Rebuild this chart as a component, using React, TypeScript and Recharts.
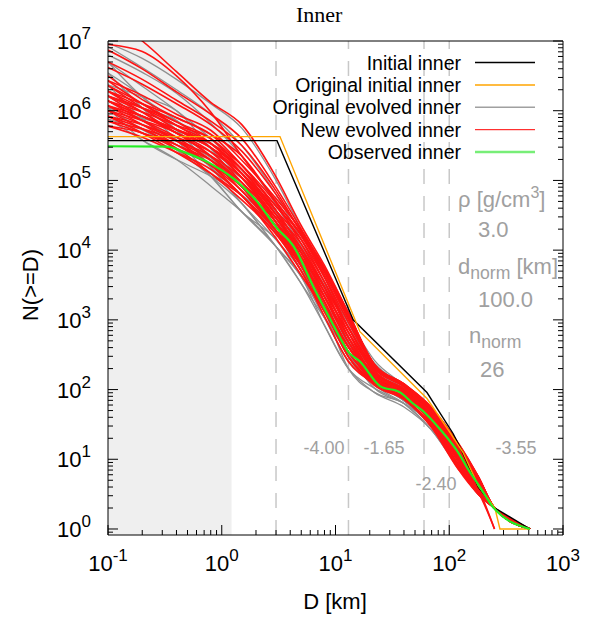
import { LineChart, Line, XAxis, YAxis, ReferenceArea, ReferenceLine } from "recharts"

// D [km] sample points shared by the ensemble runs
const D_GRID = [0.1, 0.2, 0.4, 0.8, 1.5, 3, 5, 8, 13, 22, 40, 70, 120, 180, 250, 513]

// log10 N(>=D) for the new evolved runs (red)
const RED_RUNS: (number | null)[][] = [
  [5.78, 5.62, 5.40, 5.16, 4.78, 4.17, 3.64, 3.12, 2.47, 2.12, 1.93, 1.52, 0.90, 0.50, 0.30, 0],
  [5.85, 5.68, 5.51, 5.22, 4.78, 4.23, 3.77, 3.19, 2.61, 2.15, 1.95, 1.57, 0.97, 0.55, 0.30, 0],
  [5.92, 5.74, 5.46, 5.10, 4.72, 4.23, 3.70, 3.05, 2.40, 2.09, 1.90, 1.54, 1.01, 0.58, 0, null],
  [6.00, 5.80, 5.57, 5.22, 4.85, 4.28, 3.83, 3.26, 2.54, 2.12, 1.88, 1.49, 0.93, 0.60, 0.30, 0],
  [6.07, 5.86, 5.62, 5.29, 4.91, 4.40, 3.90, 3.26, 2.61, 2.18, 1.97, 1.60, 1.05, 0.63, 0.30, 0],
  [6.14, 5.92, 5.68, 5.41, 4.97, 4.34, 3.83, 3.33, 2.68, 2.21, 1.99, 1.63, 1.08, 0.65, 0.30, 0],
  [6.21, 5.98, 5.68, 5.35, 4.97, 4.46, 3.96, 3.40, 2.82, 2.24, 2.01, 1.66, 1.12, 0.68, 0.30, 0],
  [6.28, 6.04, 5.79, 5.47, 5.04, 4.46, 4.02, 3.47, 2.75, 2.21, 1.97, 1.63, 1.16, 0.73, 0.30, 0],
  [6.36, 6.10, 5.79, 5.53, 5.10, 4.51, 4.09, 3.54, 2.89, 2.30, 2.04, 1.68, 1.19, 0.70, 0.30, 0],
  [6.43, 6.10, 5.84, 5.60, 5.16, 4.57, 4.15, 3.61, 2.96, 2.33, 2.06, 1.71, 1.23, 0.75, 0.30, 0],
  [6.50, 6.16, 5.90, 5.66, 5.22, 4.63, 4.22, 3.68, 3.03, 2.36, 2.08, 1.74, 1.19, 0.70, 0.30, 0],
  [5.92, 5.80, 5.62, 5.41, 5.10, 4.51, 3.96, 3.33, 2.68, 2.15, 1.93, 1.54, 1.05, 0.60, 0.30, 0],
  [6.14, 5.86, 5.57, 5.29, 4.85, 4.34, 3.90, 3.40, 2.82, 2.27, 1.99, 1.60, 1.01, 0.58, 0.30, 0],
  [6.21, 5.92, 5.73, 5.53, 5.16, 4.63, 4.15, 3.54, 2.82, 2.18, 1.95, 1.60, 1.08, 0.63, 0.30, 0],
  [6.00, 5.74, 5.51, 5.29, 4.97, 4.40, 3.83, 3.19, 2.47, 2.06, 1.86, 1.49, 0.97, 0.55, 0.30, 0],
  [6.28, 6.10, 5.90, 5.66, 5.35, 4.68, 4.09, 3.47, 2.75, 2.18, 1.93, 1.52, 0.93, 0.53, 0.30, 0],
  [6.07, 5.92, 5.73, 5.47, 5.10, 4.57, 4.02, 3.47, 2.89, 2.30, 2.06, 1.71, 1.16, 0.65, 0.30, 0],
  [5.85, 5.74, 5.57, 5.35, 5.04, 4.46, 3.90, 3.26, 2.61, 2.12, 1.90, 1.57, 1.08, 0.68, 0.30, 0],
  [6.36, 6.04, 5.73, 5.47, 5.16, 4.51, 3.96, 3.33, 2.68, 2.24, 2.01, 1.68, 1.12, 0.63, 0.30, 0],
  [6.43, 6.22, 5.95, 5.72, 5.29, 4.74, 4.28, 3.75, 3.10, 2.33, 2.04, 1.66, 1.05, 0.60, 0.30, 0],
  [5.78, 5.68, 5.46, 5.22, 4.91, 4.28, 3.77, 3.12, 2.54, 2.09, 1.88, 1.46, 0.86, 0.53, 0, null],
  [6.14, 5.98, 5.79, 5.60, 5.22, 4.68, 4.22, 3.61, 2.89, 2.27, 1.99, 1.57, 0.97, 0.55, 0.30, 0],
  [6.00, 5.86, 5.68, 5.35, 4.91, 4.28, 3.70, 3.12, 2.54, 2.15, 1.95, 1.63, 1.19, 0.75, 0.30, 0],
  [6.21, 6.04, 5.84, 5.53, 5.10, 4.40, 3.77, 3.19, 2.61, 2.21, 1.97, 1.54, 0.90, 0.50, 0.30, 0],
  [5.92, 5.68, 5.40, 5.10, 4.78, 4.28, 3.83, 3.33, 2.75, 2.18, 1.93, 1.52, 0.86, 0.50, 0.30, 0],
  [6.07, 5.80, 5.51, 5.22, 4.91, 4.34, 3.77, 3.19, 2.47, 2.09, 1.86, 1.46, 0.90, 0.55, 0.30, 0],
  [6.28, 5.98, 5.68, 5.47, 5.04, 4.40, 3.96, 3.47, 2.89, 2.24, 1.97, 1.66, 1.16, 0.68, 0.30, 0],
  [6.14, 5.92, 5.73, 5.53, 5.22, 4.57, 4.02, 3.40, 2.68, 2.15, 1.95, 1.60, 1.12, 0.70, 0.30, 0],
  [7.35, 7.00, 6.56, 6.12, 5.80, 5.05, 4.35, 3.78, 3.10, 2.36, 2.08, 1.74, 1.23, 0.75, 0.30, 0],
  [6.87, 6.60, 6.27, 5.95, 5.60, 4.90, 4.30, 3.72, 3.05, 2.34, 2.06, 1.70, 1.15, 0.70, 0.30, 0],
  [6.95, 6.85, 6.50, 5.98, 5.35, 4.70, 4.20, 3.65, 3.00, 2.32, 2.05, 1.70, 1.18, 0.72, 0.30, 0],
  [6.70, 6.45, 6.15, 5.85, 5.50, 4.85, 4.25, 3.70, 3.05, 2.35, 2.07, 1.72, 1.20, 0.74, 0.30, 0],
  [6.62, 6.38, 6.10, 5.80, 5.42, 4.80, 4.26, 3.72, 3.08, 2.36, 2.08, 1.73, 1.21, 0.74, 0.30, 0],
]

// log10 N(>=D) for the original evolved runs (gray)
const GRAY_RUNS: (number | null)[][] = [
  [5.88, 5.58, 5.30, 4.92, 4.55, 4.05, 3.52, 2.92, 2.30, 1.96, 1.75, 1.42, 0.88, 0.50, 0.30, 0],
  [6.04, 5.73, 5.44, 5.06, 4.67, 4.05, 3.62, 3.03, 2.41, 2.08, 1.84, 1.47, 0.93, 0.50, 0.30, 0],
  [6.21, 5.89, 5.44, 5.06, 4.55, 4.15, 3.62, 3.13, 2.52, 2.02, 1.80, 1.51, 0.99, 0.59, 0.30, 0],
  [6.37, 5.89, 5.58, 5.19, 4.79, 4.25, 3.71, 3.03, 2.41, 2.08, 1.89, 1.56, 1.04, 0.59, 0.30, 0],
  [6.54, 6.20, 5.72, 5.33, 4.91, 4.35, 3.81, 3.24, 2.63, 2.13, 1.84, 1.51, 1.04, 0.63, 0.30, 0],
  [6.70, 6.20, 5.86, 5.46, 5.03, 4.45, 3.90, 3.34, 2.74, 2.19, 1.93, 1.56, 1.10, 0.68, 0.30, 0],
  [6.37, 6.04, 5.72, 5.19, 4.67, 4.15, 3.71, 3.13, 2.63, 2.13, 1.93, 1.60, 1.10, 0.72, 0.30, 0],
  [6.21, 6.04, 5.86, 5.46, 4.91, 4.25, 3.71, 3.24, 2.74, 2.25, 1.98, 1.65, 1.15, 0.68, 0.30, 0],
  [6.04, 5.58, 5.30, 5.06, 4.79, 4.35, 3.81, 3.13, 2.30, 1.96, 1.80, 1.42, 0.88, 0.54, 0.30, 0],
  [6.54, 6.04, 5.58, 5.06, 4.55, 4.05, 3.62, 2.92, 2.30, 2.02, 1.80, 1.51, 0.99, 0.54, 0.30, 0],
  [5.88, 5.73, 5.58, 5.33, 5.03, 4.55, 4.00, 3.45, 2.74, 2.13, 1.89, 1.60, 1.04, 0.63, 0.30, 0],
  [6.70, 6.35, 6.00, 5.60, 5.15, 4.55, 3.90, 3.24, 2.52, 2.08, 1.89, 1.60, 1.15, 0.72, 0.30, 0],
  [6.04, 5.89, 5.72, 5.19, 4.67, 4.05, 3.52, 3.03, 2.52, 2.13, 1.84, 1.47, 0.88, 0.50, 0.30, 0],
  [6.37, 6.20, 6.00, 5.46, 4.91, 4.35, 3.90, 3.34, 2.63, 2.08, 1.80, 1.42, 0.93, 0.59, 0.30, 0],
  [6.97, 6.75, 6.45, 6.10, 5.75, 5.00, 4.30, 3.62, 2.95, 2.30, 2.02, 1.66, 1.12, 0.70, 0.30, 0],
  [6.92, 6.62, 6.30, 5.95, 5.50, 4.80, 4.15, 3.55, 2.95, 2.38, 2.05, 1.68, 1.14, 0.71, 0.30, 0],
  [6.80, 6.55, 6.25, 5.82, 5.35, 4.65, 4.05, 3.50, 3.00, 2.42, 2.06, 1.67, 1.13, 0.70, 0.30, 0],
]

const INITIAL_D = [0.1, 3.06, 14.3, 63.7, 108, 129, 180, 252, 513]
const INITIAL_LOGN = [5.571, 5.571, 3.0, 1.957, 1.37, 1.12, 0.6, 0.3, 0]

const ORIGINAL_D = [0.1, 3.25, 16.4, 63.7, 100, 132, 180, 252, 279, 513]
const ORIGINAL_LOGN = [5.629, 5.629, 2.83, 1.871, 1.4, 1.1, 0.62, 0.3, 0, 0]

const OBSERVED_D = [0.1, 0.33, 0.46, 0.79, 1.26, 2.04, 3.0, 4.3, 6.5, 8.4, 10.9, 12.8, 16.5, 24.6, 37, 48, 58, 83, 124, 146, 190, 243, 513]
const OBSERVED_LOGN = [5.49, 5.486, 5.41, 5.245, 5.03, 4.7, 4.33, 4.05, 3.45, 3.1, 2.75, 2.55, 2.4, 2.05, 1.96, 1.8, 1.7, 1.43, 1.06, 0.86, 0.58, 0.31, 0]

const BREAKS_D = [3, 13, 60, 100]
const SLOPE_LABELS = ["-4.00", "-1.65", "-2.40", "-3.55"]
const RHO = "3.0"
const D_NORM = "100.0"
const N_NORM = "26"

const X_DECADES = [0.1, 1, 10, 100]
const Y_DECADES = [1, 10, 100, 1000, 1e4, 1e5, 1e6]
const MINOR_STEPS = [2, 3, 4, 5, 6, 7, 8, 9]
const X_TICKS = [...X_DECADES.flatMap((d) => [d, ...MINOR_STEPS.map((m) => m * d)]), 1000]
const Y_TICKS = [0.9, ...Y_DECADES.flatMap((d) => [d, ...MINOR_STEPS.map((m) => m * d)]), 1e7]

const SANS = '"Liberation Sans", Arial, Helvetica, sans-serif'
const SERIF = '"Liberation Serif", "Times New Roman", serif'

const toPoints = (ds: number[], logs: (number | null)[]) =>
  ds.map((d, i) => ({ D: d, N: logs[i] == null ? null : Math.pow(10, logs[i] as number) }))

const isMajor = (v: number) => {
  const l = Math.log10(v)
  return Math.abs(l - Math.round(l)) < 1e-6
}

const Pow10 = ({ v }: { v: number }) => (
  <>
    10<tspan dy={-10} fontSize={17}>{Math.round(Math.log10(v))}</tspan>
  </>
)

const BottomTick = (p: any) => {
  const { x, y, payload } = p
  const major = isMajor(payload.value)
  return (
    <g>
      <line x1={x} x2={x} y1={y} y2={y - (major ? 10 : 5)} stroke="#000" strokeWidth={1} />
      {major && (
        <text x={x} y={y + 36} textAnchor="middle" fontSize={22} fontFamily={SANS} fill="#000">
          <Pow10 v={payload.value} />
        </text>
      )}
    </g>
  )
}

const TopTick = (p: any) => {
  const { x, y, payload } = p
  const major = isMajor(payload.value)
  return <line x1={x} x2={x} y1={y} y2={y + (major ? 10 : 5)} stroke="#000" strokeWidth={1} />
}

const LeftTick = (p: any) => {
  const { x, y, payload } = p
  const major = isMajor(payload.value)
  return (
    <g>
      <line x1={x} x2={x + (major ? 10 : 5)} y1={y} y2={y} stroke="#000" strokeWidth={1} />
      {major && (
        <text x={x - 17} y={y + 8} textAnchor="end" fontSize={22} fontFamily={SANS} fill="#000">
          <Pow10 v={payload.value} />
        </text>
      )}
    </g>
  )
}

const RightTick = (p: any) => {
  const { x, y, payload } = p
  const major = isMajor(payload.value)
  return <line x1={x} x2={x - (major ? 10 : 5)} y1={y} y2={y} stroke="#000" strokeWidth={1} />
}

const LEGEND = [
  { label: "Initial inner", color: "#000000", width: 1.5 },
  { label: "Original initial inner", color: "#ffa500", width: 1.5 },
  { label: "Original evolved inner", color: "#a0a0a0", width: 1.5 },
  { label: "New evolved inner", color: "#ff0000", width: 1 },
  { label: "Observed inner", color: "#77ee77", width: 2.5 },
]

export default function App() {
  const axisLine = { stroke: "#000", strokeWidth: 1 }
  return (
    <div style={{ position: "absolute", left: 0, top: 0, width: 598, height: 619, background: "#fff" }}>
      <LineChart width={598} height={619} margin={{ top: 0, right: 0, bottom: 0, left: 0 }}>
        <XAxis
          xAxisId="b"
          dataKey="D"
          type="number"
          scale="log"
          domain={[0.1, 1000]}
          allowDataOverflow
          ticks={X_TICKS}
          interval={0}
          height={84}
          tickSize={0}
          tickMargin={0}
          tickLine={false}
          axisLine={axisLine}
          tick={BottomTick}
        />
        <XAxis
          xAxisId="t"
          orientation="top"
          type="number"
          scale="log"
          domain={[0.1, 1000]}
          allowDataOverflow
          ticks={X_TICKS}
          interval={0}
          height={41}
          tickSize={0}
          tickMargin={0}
          tickLine={false}
          axisLine={axisLine}
          tick={TopTick}
        />
        <YAxis
          yAxisId="l"
          type="number"
          scale="log"
          domain={[0.82, 1e7]}
          allowDataOverflow
          ticks={Y_TICKS}
          interval={0}
          width={108}
          tickSize={0}
          tickMargin={0}
          tickLine={false}
          axisLine={axisLine}
          tick={LeftTick}
        />
        <YAxis
          yAxisId="r"
          orientation="right"
          type="number"
          scale="log"
          domain={[0.82, 1e7]}
          allowDataOverflow
          ticks={Y_TICKS}
          interval={0}
          width={35}
          tickSize={0}
          tickMargin={0}
          tickLine={false}
          axisLine={axisLine}
          tick={RightTick}
        />
        <ReferenceArea xAxisId="b" yAxisId="l" x1={0.1} x2={1.22} fill="#efefef" fillOpacity={1} stroke="none" />
        {BREAKS_D.map((d) => (
          <ReferenceLine
            key={d}
            xAxisId="b"
            yAxisId="l"
            x={d}
            stroke="#c8c8c8"
            strokeWidth={1.5}
            strokeDasharray="15 12"
          />
        ))}
        {GRAY_RUNS.map((run, i) => (
          <Line
            key={`g${i}`}
            xAxisId="b"
            yAxisId="l"
            data={toPoints(D_GRID, run)}
            dataKey="N"
            type="monotone"
            stroke="#8f8f8f"
            strokeWidth={1.3}
            dot={false}
            isAnimationActive={false}
          />
        ))}
        {RED_RUNS.map((run, i) => (
          <Line
            key={`r${i}`}
            xAxisId="b"
            yAxisId="l"
            data={toPoints(D_GRID, run)}
            dataKey="N"
            type="monotone"
            stroke="#ff1414"
            strokeWidth={1.6}
            dot={false}
            isAnimationActive={false}
          />
        ))}
        <Line
          xAxisId="b"
          yAxisId="l"
          data={toPoints(INITIAL_D, INITIAL_LOGN)}
          dataKey="N"
          type="linear"
          stroke="#000"
          strokeWidth={1.4}
          dot={false}
          isAnimationActive={false}
        />
        <Line
          xAxisId="b"
          yAxisId="l"
          data={toPoints(ORIGINAL_D, ORIGINAL_LOGN)}
          dataKey="N"
          type="linear"
          stroke="#ffa500"
          strokeWidth={1.4}
          dot={false}
          isAnimationActive={false}
        />
        <Line
          xAxisId="b"
          yAxisId="l"
          data={toPoints(OBSERVED_D, OBSERVED_LOGN)}
          dataKey="N"
          type="monotone"
          stroke="#22ee22"
          strokeWidth={2.2}
          dot={false}
          isAnimationActive={false}
        />
      </LineChart>
      <svg
        width={598}
        height={619}
        style={{ position: "absolute", left: 0, top: 0, pointerEvents: "none" }}
        fontFamily={SANS}
      >
        <text x={296} y={22} fontFamily={SERIF} fontSize={22} fill="#000">Inner</text>
        <text transform="translate(38,285) rotate(-90)" textAnchor="middle" fontSize={22} fill="#000">
          N(&gt;=D)
        </text>
        <text x={335} y={609} textAnchor="middle" fontSize={22} fill="#000">D [km]</text>

        {LEGEND.map((item, i) => {
          const ly = 62.5 + i * 22.4
          return (
            <g key={item.label}>
              <text x={461} y={ly + 7} textAnchor="end" fontSize={19.5} fill="#000">{item.label}</text>
              <line x1={475} x2={535} y1={ly} y2={ly} stroke={item.color} strokeWidth={item.width} />
            </g>
          )
        })}

        <g fill="#a0a0a0" fontSize={18}>
          <text x={324} y={454} textAnchor="middle">{SLOPE_LABELS[0]}</text>
          <text x={384} y={454} textAnchor="middle">{SLOPE_LABELS[1]}</text>
          <text x={436} y={490} textAnchor="middle">{SLOPE_LABELS[2]}</text>
          <text x={516} y={454} textAnchor="middle">{SLOPE_LABELS[3]}</text>
        </g>
        <g fill="#a0a0a0" fontSize={22}>
          <text x={458} y={207}>
            ρ [g/cm<tspan dy={-9} fontSize={16}>3</tspan><tspan dy={9}>]</tspan>
          </text>
          <text x={478} y={237}>{RHO}</text>
          <text x={458} y={274}>
            d<tspan dy={5} fontSize={17.6}>norm</tspan><tspan dy={-5}> [km]</tspan>
          </text>
          <text x={478} y={307}>{D_NORM}</text>
          <text x={469} y={343}>
            n<tspan dy={5} fontSize={17.6}>norm</tspan>
          </text>
          <text x={480} y={377}>{N_NORM}</text>
        </g>
      </svg>
    </div>
  )
}
